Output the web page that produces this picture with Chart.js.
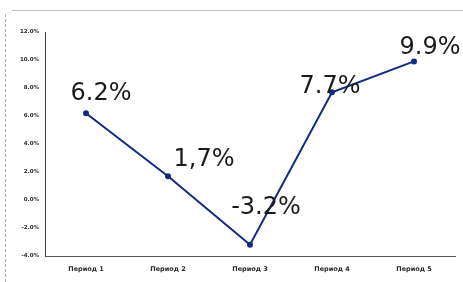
<!DOCTYPE html>
<html>
<head>
<meta charset="utf-8">
<script src="https://cdn.jsdelivr.net/npm/chart.js@4.4.1/dist/chart.umd.min.js"></script>
<style>
  html, body { margin: 0; padding: 0; background: #ffffff; }
  #wrap { position: relative; width: 463px; height: 282px; overflow: hidden; }
  #topline { position: absolute; left: 12px; top: 10px; width: 451px; height: 0; border-top: 1px solid #b8bcc4; }
  #leftline { position: absolute; left: 5px; top: 14px; width: 0; height: 268px; border-left: 1px dashed #a9b0bc; }
  canvas { position: absolute; left: 0; top: 0; }
</style>
</head>
<body>
<div id="wrap">
  <div id="topline"></div>
  <div id="leftline"></div>
  <canvas id="c" width="463" height="282"></canvas>
</div>
<script>
const categories = ["Период 1", "Период 2", "Период 3", "Период 4", "Период 5"];
const values = [6.2, 1.7, -3.2, 7.7, 9.9];
const valueLabels = ["6.2%", "1,7%", "-3.2%", "7.7%", "9.9%"];
const yMin = -4;
const yMax = 12;
const yStep = 2;

// pixel offsets of each value label relative to its point (style only)
const labelOffsets = [[15, -19], [36, -16], [16, -37], [-2, -5], [16, -14]];

const valueLabelPlugin = {
  id: 'valueLabels',
  afterDatasetsDraw(chart) {
    const ctx = chart.ctx;
    const meta = chart.getDatasetMeta(0);
    ctx.save();
    ctx.font = '24px "DejaVu Sans"';
    ctx.fillStyle = '#1a1a1a';
    ctx.textAlign = 'center';
    ctx.textBaseline = 'middle';
    meta.data.forEach((pt, i) => {
      const o = labelOffsets[i];
      ctx.fillText(valueLabels[i], pt.x + o[0], pt.y + o[1]);
    });
    ctx.restore();
  }
};

new Chart(document.getElementById('c'), {
  type: 'line',
  data: {
    labels: categories,
    datasets: [{
      data: values,
      borderColor: '#0f2a82',
      backgroundColor: '#0f2a82',
      borderWidth: 2,
      pointRadius: 3,
      pointBackgroundColor: '#0f2a82',
      pointBorderWidth: 0,
      tension: 0,
      fill: false
    }]
  },
  options: {
    responsive: false,
    animation: false,
    devicePixelRatio: 1,
    layout: { padding: { top: 32, right: 8, left: 0, bottom: 0 } },
    plugins: {
      legend: { display: false },
      tooltip: { enabled: false }
    },
    scales: {
      x: {
        offset: true,
        grid: { display: false, drawTicks: false },
        border: { display: true, color: '#555a60', width: 1 },
        ticks: {
          color: '#2a2a2a',
          font: { family: 'DejaVu Sans', size: 6.5, weight: 'bold' },
          padding: 9,
          maxRotation: 0
        },
        afterFit(scale) { scale.height = 26; }
      },
      y: {
        min: yMin,
        max: yMax,
        grid: { display: false, drawTicks: false },
        border: { display: true, color: '#3c4148', width: 1 },
        ticks: {
          stepSize: yStep,
          color: '#2a2a2a',
          font: { family: 'DejaVu Sans', size: 5.5, weight: 'bold' },
          padding: 6,
          callback: v => v.toFixed(1) + '%'
        },
        afterFit(scale) { scale.width = 45; }
      }
    }
  },
  plugins: [valueLabelPlugin]
});
</script>
</body>
</html>
